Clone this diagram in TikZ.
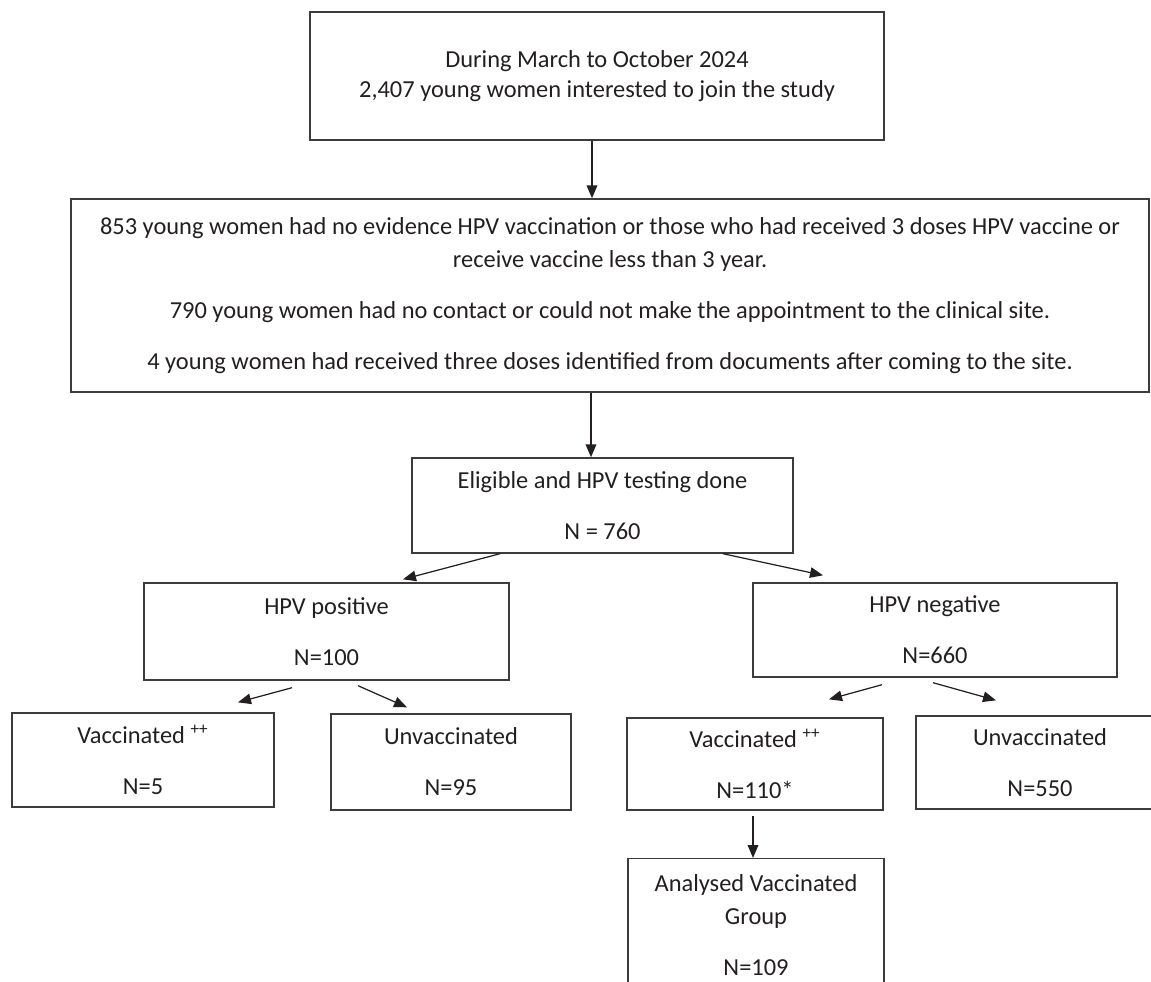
\documentclass[tikz,border=0pt]{standalone}
\usepackage{fontspec}
\setmainfont{Carlito}
\usepackage{tikz}
\usetikzlibrary{calc}
\usetikzlibrary{arrows.meta}
\definecolor{ink}{RGB}{35, 31, 32}
\definecolor{edge}{RGB}{60, 60, 60}

\begin{document}
\begin{tikzpicture}[x=0.02cm, y=-0.02cm,
	box/.style={draw=edge, line width=0.8pt, align=center, inner sep=0pt, text=ink,
		font=\fontsize{13.9}{18.5}\selectfont},
	arr/.style={draw=ink, line width=0.7pt, -{Triangle[length=0.26cm,width=0.21cm]}},
	down/.style={arr, line width=1.1pt}]
\useasboundingbox (0,0) rectangle (1151,981);

% boxes
\node [box, minimum width=11.48cm, minimum height=2.56cm] (top) at (597,76)
	{During March to October 2024\\[-1.5pt] 2,407 young women interested to join the study};
\node [box, minimum width=21.56cm, minimum height=3.86cm] (excl) at (610,295.5)
	{853 young women had no evidence HPV vaccination or those who had received 3 doses HPV vaccine or\\
	 receive vaccine less than 3 year.\\[10.5pt]
	 790 young women had no contact or could not make the appointment to the clinical site.\\[10.5pt]
	 4 young women had received three doses identified from documents after coming to the site.};
\node [box, minimum width=7.62cm, minimum height=1.9cm] (elig) at (602.5,505.5)
	{Eligible and HPV testing done\\[10.5pt] N = 760};
\node [box, minimum width=7.3cm, minimum height=1.94cm] (pos) at (326.5,631.5)
	{HPV positive\\[10.5pt] N=100};
\node [box, minimum width=7.28cm, minimum height=1.88cm] (neg) at (935,630)
	{HPV negative\\[10.5pt] N=660};
\node [box, minimum width=5.24cm, minimum height=1.88cm] (posvac) at (143,760)
	{Vaccinated \textsuperscript{++}\\[10.5pt] N=5};
\node [box, minimum width=4.8cm, minimum height=1.92cm] (posunvac) at (451,762)
	{Unvaccinated\\[10.5pt] N=95};
\node [box, minimum width=5.12cm, minimum height=1.84cm] (negvac) at (755,764)
	{Vaccinated \textsuperscript{++}\\[10.5pt] N=110*};
\node [box, minimum width=4.96cm, minimum height=1.86cm] (negunvac) at (1040,762.5)
	{Unvaccinated\\[10.5pt] N=550};
\node [box, minimum width=5.12cm, inner ysep=0.32cm, anchor=north] (analysed) at (756,858)
	{Analysed Vaccinated\\ Group\\[10.5pt] N=109};

% arrows
\draw [down] ($(top.south)+(-5,0)$) coordinate (a1) -- (a1 |- excl.north);
\draw [down] ($(excl.south)+(-19,0)$) coordinate (a2) -- (a2 |- elig.north);
\draw [arr] ($(elig.south)+(-102.5,0)$) -- ($(pos.north)+(76.5,-3)$);
\draw [arr] ($(elig.south)+(120.5,0)$) -- ($(neg.north)+(-112,-7)$);
\draw [arr] ($(pos.south)+(-34.5,7)$) -- ($(posvac.north)+(95,-10)$);
\draw [arr] ($(pos.south)+(31.5,5)$) -- ($(posunvac.north)+(-44,-6)$);
\draw [arr] ($(neg.south)+(-53,7)$) -- ($(negvac.north)+(74,-18)$);
\draw [arr] ($(neg.south)+(-2,5)$) -- ($(negunvac.north)+(-44,-15)$);
\draw [down] ($(negvac.south)+(-2,5)$) coordinate (a3) -- (a3 |- analysed.north);
\end{tikzpicture}
\end{document}
